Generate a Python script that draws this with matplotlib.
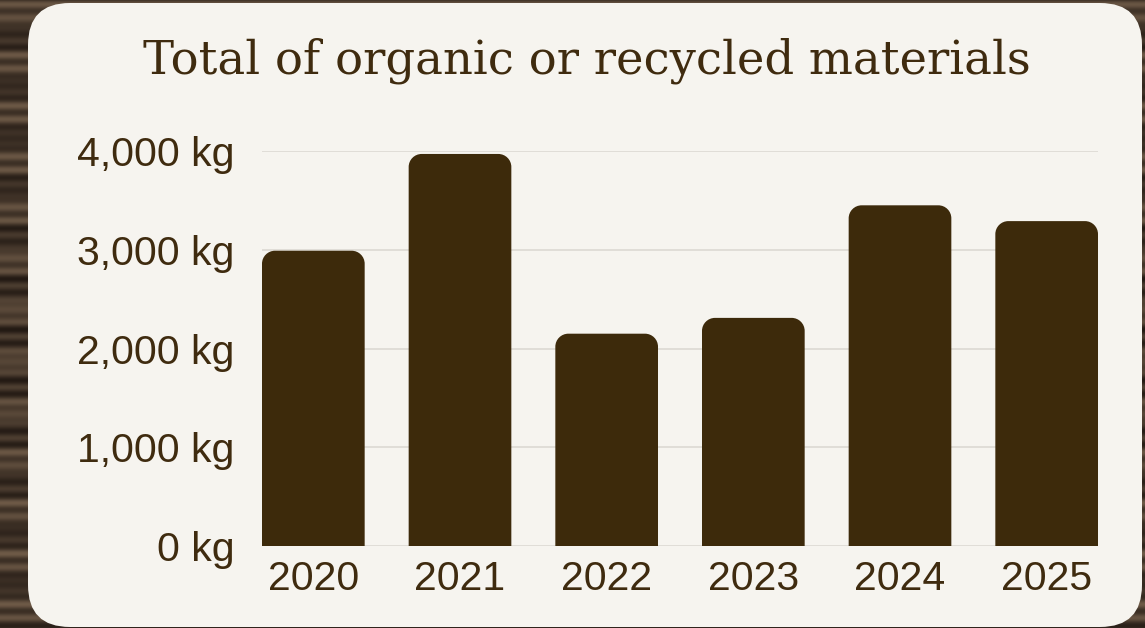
import matplotlib
matplotlib.use("Agg")
import matplotlib.pyplot as plt
from matplotlib.patches import FancyBboxPatch, PathPatch
from matplotlib.path import Path
from matplotlib.ticker import FuncFormatter
import numpy as np

# Data
years = ["2020", "2021", "2022", "2023", "2024", "2025"]
totals_kg = [2990, 3970, 2150, 2310, 3450, 3290]
y_ticks = [0, 1000, 2000, 3000, 4000]

title = "Total of organic or recycled materials"

# Colours
bar_color = "#3d2a0b"
text_color = "#3f2b0f"
card_color = "#f6f4ef"
grid_color = "#dcd9d3"
backdrop = "#3a3028"

W, H, DPI = 1145, 628, 100
fig = plt.figure(figsize=(W / DPI, H / DPI), dpi=DPI)
fig.patch.set_facecolor(backdrop)

# Backdrop: dark wood-like horizontal grain
bg_ax = fig.add_axes([0, 0, 1, 1], zorder=-10)
bg_ax.set_axis_off()
rows = np.arange(H)
shade = 0.5 + 0.3 * np.sin(rows / 2.3) * np.cos(rows / 17.7) + 0.2 * np.sin(rows / 7.9)
tex = np.repeat(shade[:, None], 8, axis=1)
bg_ax.imshow(tex, cmap=matplotlib.colors.LinearSegmentedColormap.from_list(
    "wood", ["#231a14", "#45372b", "#6e5a47"]), aspect="auto",
    extent=[0, 1, 0, 1], interpolation="bilinear")
bg_ax.set_xlim(0, 1)
bg_ax.set_ylim(0, 1)

# Rounded card
card_l, card_r, card_t, card_b = 28, 1142, 3, 627
rad = 42
card = FancyBboxPatch(
    (card_l / W, (H - card_b) / H),
    (card_r - card_l) / W, (card_b - card_t) / H,
    boxstyle=f"round,pad=0,rounding_size={rad / W}",
    transform=fig.transFigure, facecolor=card_color, edgecolor="none",
    zorder=-5, mutation_aspect=W / H)
fig.patches.append(card)

# Title
fig.text(586.5 / W, (H - 73) / H, title, ha="center", va="baseline",
         fontsize=33.5, family="DejaVu Serif", color=text_color)

# Plot area
ax_l, ax_r, ax_t, ax_b = 262, 1098, 151, 546
ax = fig.add_axes([ax_l / W, (H - ax_b) / H, (ax_r - ax_l) / W, (ax_b - ax_t) / H])
ax.set_facecolor("none")

bar_w = 0.7
x = np.arange(len(years))
ax.set_xlim(-bar_w / 2, len(years) - 1 + bar_w / 2)
ax.set_ylim(0, 4000)

# Bars with rounded top corners (radius given in pixels)
px_per_x = (ax_r - ax_l) / (len(years) - 1 + bar_w)
px_per_y = (ax_b - ax_t) / 4000
r_px = 13
rx, ry = r_px / px_per_x, r_px / px_per_y
k = 0.5523
for xi, v in zip(x, totals_kg):
    x0, x1 = xi - bar_w / 2, xi + bar_w / 2
    verts = [
        (x0, 0), (x0, v - ry),
        (x0, v - ry + k * ry), (x0 + rx - k * rx, v), (x0 + rx, v),
        (x1 - rx, v),
        (x1 - rx + k * rx, v), (x1, v - ry + k * ry), (x1, v - ry),
        (x1, 0), (x0, 0),
    ]
    codes = [Path.MOVETO, Path.LINETO,
             Path.CURVE4, Path.CURVE4, Path.CURVE4,
             Path.LINETO,
             Path.CURVE4, Path.CURVE4, Path.CURVE4,
             Path.LINETO, Path.CLOSEPOLY]
    ax.add_patch(PathPatch(Path(verts, codes), facecolor=bar_color,
                           edgecolor="none", zorder=3))

ax.set_yticks(y_ticks)
ax.yaxis.set_major_formatter(FuncFormatter(lambda v, _: f"{int(v):,} kg"))
ax.set_xticks(x)
ax.set_xticklabels(years)
ax.grid(axis="y", color=grid_color, linewidth=1.2, zorder=0)
ax.set_axisbelow(True)
for s in ax.spines.values():
    s.set_visible(False)
ax.tick_params(axis="both", length=0, labelsize=29.5, labelcolor=text_color)
ax.tick_params(axis="y", pad=20)
ax.tick_params(axis="x", pad=10)
for lbl in ax.get_xticklabels() + ax.get_yticklabels():
    lbl.set_family("Liberation Sans")

fig.savefig("out.png", dpi=DPI, facecolor=fig.get_facecolor())
